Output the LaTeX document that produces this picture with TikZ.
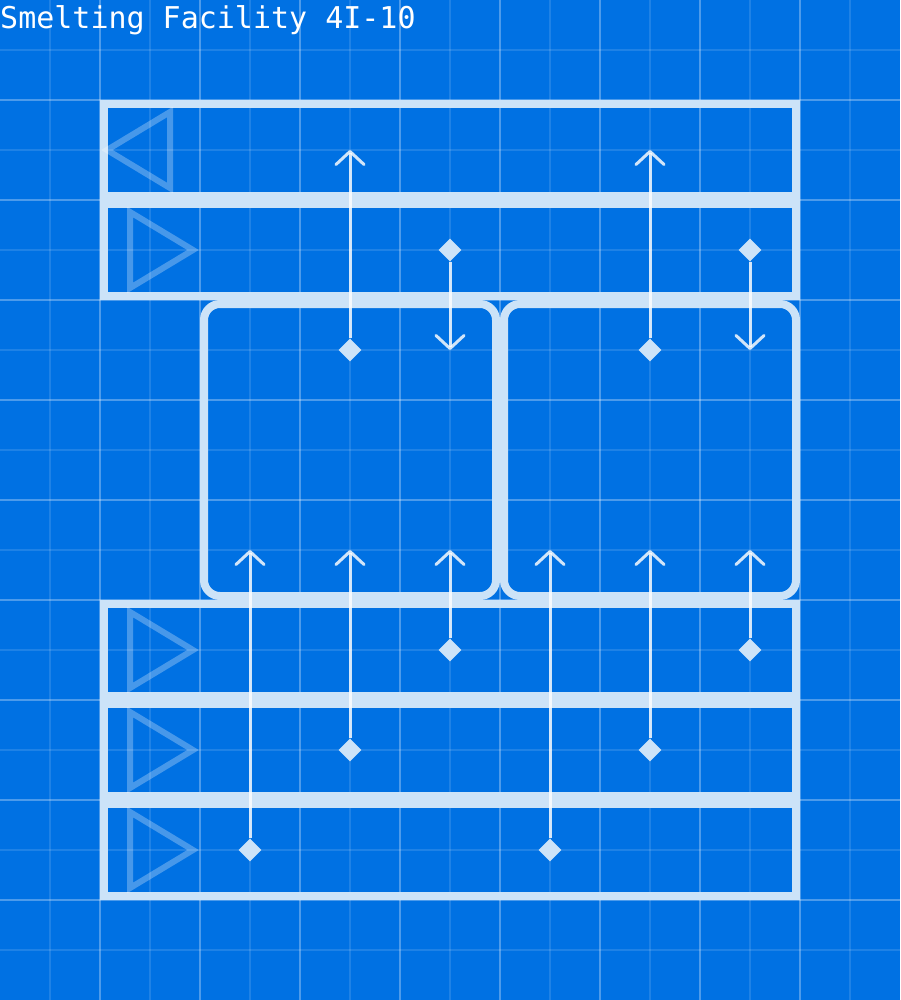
\documentclass[tikz,border=0pt]{standalone}
\usepackage{fontspec}
\setmonofont{DejaVu Sans Mono}
\usepackage{xcolor}
\definecolor{plateblue}{RGB}{0, 113, 227}
\definecolor{chalk}{RGB}{204, 227, 248}
\usetikzlibrary{shapes.geometric, arrows.meta}

\begin{document}
\begin{tikzpicture}[x=1pt, y=-1pt,
        minorline/.style={draw=white, draw opacity=0.12, line width=1.5pt},
        majorline/.style={draw=white, draw opacity=0.3, line width=2pt},
        band/.style={rectangle, draw=chalk, line width=8pt, minimum width=692pt, minimum height=92pt, inner sep=0pt},
        cell/.style={rectangle, draw=chalk, line width=8pt, rounded corners=16pt, minimum width=292pt, minimum height=292pt, inner sep=0pt},
        dirmark/.style={draw=white, draw opacity=0.28, line width=6pt},
        port/.style={diamond, fill=chalk, minimum width=23pt, minimum height=23pt, inner sep=0pt},
        flow/.style={draw=white, draw opacity=0.82, line width=3pt, -{Straight Barb[length=13pt, width=28pt, round]}}]

        % background and grid
        \useasboundingbox (0,0) rectangle (900,1000);
        \fill[plateblue] (0,0) rectangle (900,1000);
        \foreach \k in {50,150,...,850} {
            \draw[minorline] (\k,0) -- (\k,1000);
        }
        \foreach \k in {50,150,...,950} {
            \draw[minorline] (0,\k) -- (900,\k);
        }
        \foreach \k in {100,200,...,800} {
            \draw[majorline] (\k,0) -- (\k,1000);
        }
        \foreach \k in {100,200,...,900} {
            \draw[majorline] (0,\k) -- (900,\k);
        }

        \node [font=\ttfamily\fontsize{30}{30}\selectfont, text=white, anchor=base west, inner sep=0pt] (title) at (0,29) {Smelting Facility 4I-10};

        % conveyor bands
        \node [band] (bandA) at (450,150) {};
        \node [band] (bandB) at (450,250) {};
        \node [band] (bandC) at (450,650) {};
        \node [band] (bandD) at (450,750) {};
        \node [band] (bandE) at (450,850) {};

        % direction marks
        \draw [dirmark] (170,112) -- (107,150) -- (170,188) -- cycle;
        \draw [dirmark] (130,212) -- (193,250) -- (130,288) -- cycle;
        \draw [dirmark] (130,612) -- (193,650) -- (130,688) -- cycle;
        \draw [dirmark] (130,712) -- (193,750) -- (130,788) -- cycle;
        \draw [dirmark] (130,812) -- (193,850) -- (130,888) -- cycle;

        % furnace cells
        \node [cell] (cellL) at (350,450) {};
        \node [cell] (cellR) at (650,450) {};

        % ports
        \node [port] (pA) at (350,350) {};
        \node [port] (pB) at (450,250) {};
        \node [port] (pC) at (650,350) {};
        \node [port] (pD) at (750,250) {};
        \node [port] (pE) at (250,850) {};
        \node [port] (pF) at (350,750) {};
        \node [port] (pG) at (450,650) {};
        \node [port] (pH) at (550,850) {};
        \node [port] (pI) at (650,750) {};
        \node [port] (pJ) at (750,650) {};

        \coordinate (tA) at (350,150);
        \coordinate (tB) at (450,350);
        \coordinate (tC) at (650,150);
        \coordinate (tD) at (750,350);
        \coordinate (tE) at (250,550);
        \coordinate (tF) at (350,550);
        \coordinate (tG) at (450,550);
        \coordinate (tH) at (550,550);
        \coordinate (tI) at (650,550);
        \coordinate (tJ) at (750,550);

        \path [flow] (pA) -- (tA);
        \path [flow] (pB) -- (tB);
        \path [flow] (pC) -- (tC);
        \path [flow] (pD) -- (tD);
        \path [flow] (pE) -- (tE);
        \path [flow] (pF) -- (tF);
        \path [flow] (pG) -- (tG);
        \path [flow] (pH) -- (tH);
        \path [flow] (pI) -- (tI);
        \path [flow] (pJ) -- (tJ);
    \end{tikzpicture}
\end{document}
